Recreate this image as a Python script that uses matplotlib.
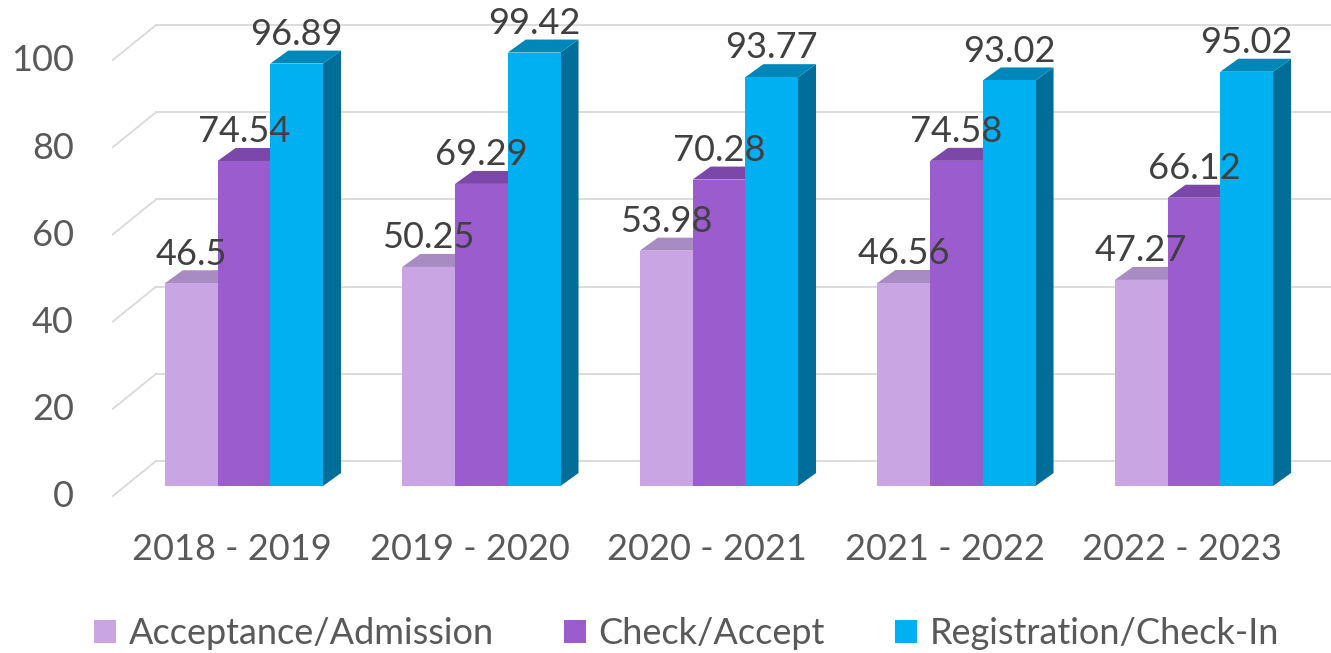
import numpy as np
import matplotlib.pyplot as plt
from matplotlib.patches import Polygon, Patch

# data
years = ["2018 - 2019", "2019 - 2020", "2020 - 2021", "2021 - 2022", "2022 - 2023"]
series = ["Acceptance/Admission", "Check/Accept", "Registration/Check-In"]
acceptance = [46.5, 50.25, 53.98, 46.56, 47.27]
check = [74.54, 69.29, 70.28, 74.58, 66.12]
registration = [96.89, 99.42, 93.77, 93.02, 95.02]
yticks = [0, 20, 40, 60, 80, 100]

front = ["#C9A5E3", "#9B5DCD", "#00B0F0"]
tops = ["#A88BC2", "#7B47A8", "#0087B9"]
sides = ["#9A7DB3", "#6E3C99", "#006E98"]

plt.rcParams["font.family"] = ["Lato", "DejaVu Sans"]

fig = plt.figure(figsize=(13.31, 6.53), dpi=100)
ax = fig.add_axes([0, 0, 1, 1])
ax.set_xlim(-1.027, 4.577)
ax.set_ylim(-38.3, 111.47)
ax.axis("off")

# pseudo-3d geometry (in data units)
w = 0.222          # bar width
dx, dy = 0.0758, 2.98   # bar depth offset
wall = 5.73        # back wall height offset
gx0, gx1 = -0.552, -0.37

# gridlines: back wall + left floor diagonal
for v in yticks:
    ax.plot([gx1, 4.577], [v + wall, v + wall], color="#D9D9D9", lw=1.3, zorder=0)
    ax.plot([gx0, gx1], [v - 2.29, v + wall], color="#D9D9D9", lw=1.3, zorder=0)
    ax.text(-0.716, v - 2.5, str(v), ha="right", va="center",
            fontsize=26, color="#595959")

x = np.arange(len(years))
values = [acceptance, check, registration]
z = 2
for i in range(len(years)):
    for k, vals in enumerate(values):
        xc = x[i] + (k - 1) * w
        v = vals[i]
        ax.bar(xc, v, width=w, color=front[k], zorder=z + 2)
        xl, xr = xc - w / 2, xc + w / 2
        ax.add_patch(Polygon([(xl, v), (xl + dx, v + dy), (xr + dx, v + dy), (xr, v)],
                             closed=True, facecolor=tops[k], edgecolor="none", zorder=z + 1))
        ax.add_patch(Polygon([(xr, 0), (xr + dx, dy), (xr + dx, v + dy), (xr, v)],
                             closed=True, facecolor=sides[k], edgecolor="none", zorder=z))
        ax.text(xc, v + 4.3, f"{v:g}", ha="center", va="baseline",
                fontsize=26, color="#404040", zorder=50)
        z += 3

for i, lab in enumerate(years):
    ax.text(x[i] - 0.05, -14.45, lab, ha="center", va="center",
            fontsize=26, color="#595959")

handles = [Patch(facecolor=c, edgecolor="none") for c in front]
fig.legend(handles, series, loc="center", bbox_to_anchor=(0.516, 0.03),
           ncol=3, frameon=False, fontsize=26, labelcolor="#595959",
           handlelength=0.6, handleheight=0.6, handletextpad=0.35,
           columnspacing=1.95, borderaxespad=0)

fig.savefig("out.png", dpi=100)
